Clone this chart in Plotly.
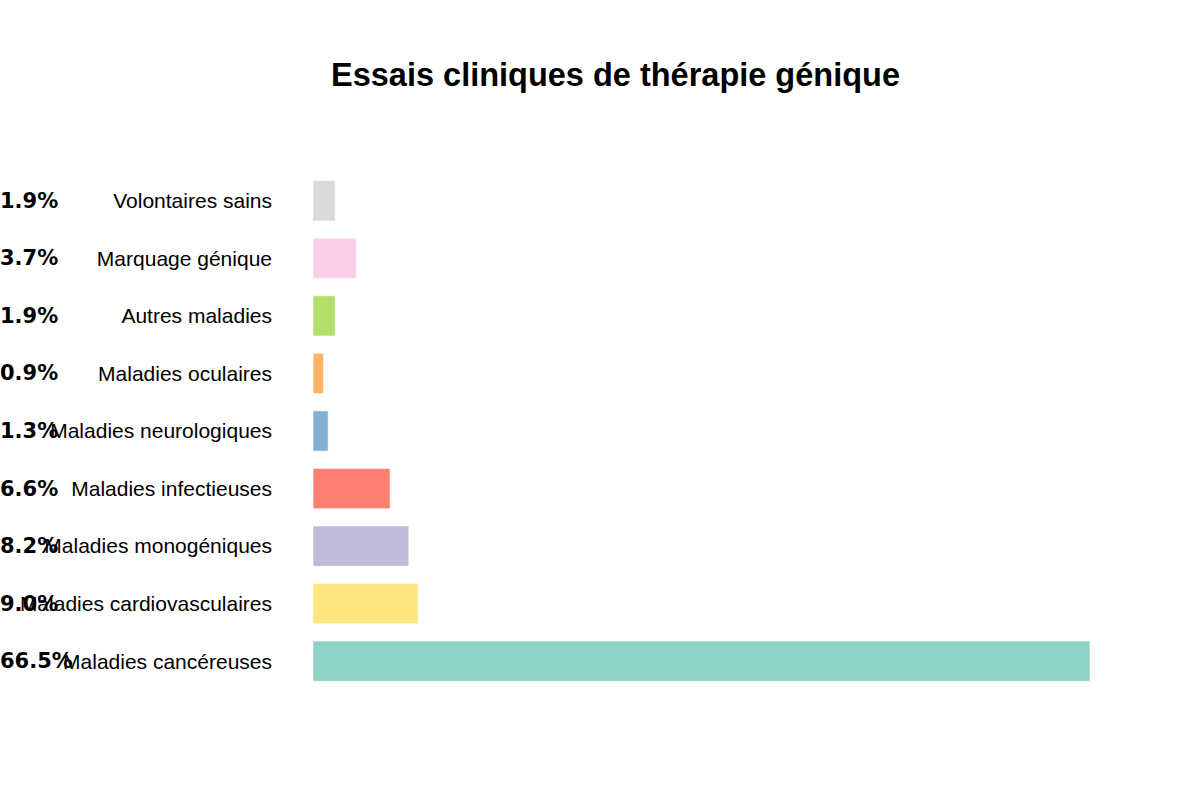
import plotly.graph_objects as go

# Data (bottom to top)
categories = [
    "Maladies cancéreuses",
    "Maladies cardiovasculaires",
    "Maladies monogéniques",
    "Maladies infectieuses",
    "Maladies neurologiques",
    "Maladies oculaires",
    "Autres maladies",
    "Marquage génique",
    "Volontaires sains",
]
percentages = [66.5, 9.0, 8.2, 6.6, 1.3, 0.9, 1.9, 3.7, 1.9]
colors = ["#8dd3c7", "#ffe680", "#bebada", "#fb8072", "#80b1d3",
          "#fdb462", "#b3de69", "#fccde5", "#d9d9d9"]

W, H = 1200, 791
ML, MR, MT, MB = 313, 110, 172, 101
plot_w = W - ML - MR

fig = go.Figure(go.Bar(
    x=percentages,
    y=categories,
    orientation="h",
    marker=dict(color=colors, line=dict(color="rgba(255,255,255,0.6)", width=1)),
    hoverinfo="x+y",
))

annotations = []
for cat, p in zip(categories, percentages):
    annotations.append(dict(
        x=-ML / plot_w, xref="paper", xanchor="left",
        y=cat, yref="y", yanchor="middle",
        text=f"{p:.1f}%", showarrow=False, borderpad=0, xshift=-1,
        font=dict(family="DejaVu Sans", size=21, color="black", weight="bold"),
    ))

fig.update_layout(
    width=W, height=H,
    margin=dict(l=ML, r=MR, t=MT, b=MB),
    paper_bgcolor="white", plot_bgcolor="white",
    bargap=0.3,
    showlegend=False,
    title=dict(
        text="<b>Essais cliniques de thérapie génique</b>",
        x=615.5 / W, xref="container", xanchor="center",
        y=(H - 75) / H, yref="container", yanchor="middle",
        font=dict(family="Liberation Sans, Arial, sans-serif", size=32.5, color="black"),
    ),
    xaxis=dict(range=[0, 66.5], visible=False, showgrid=False, zeroline=False, fixedrange=True),
    yaxis=dict(
        showgrid=False, zeroline=False, showline=False, ticks="",
        ticklabelstandoff=40,
        tickfont=dict(family="Liberation Sans, Arial, sans-serif", size=21, color="black"),
        categoryorder="array", categoryarray=categories,
    ),
    annotations=annotations,
    font=dict(family="Liberation Sans, Arial, sans-serif"),
)

fig.write_html("out.html")
